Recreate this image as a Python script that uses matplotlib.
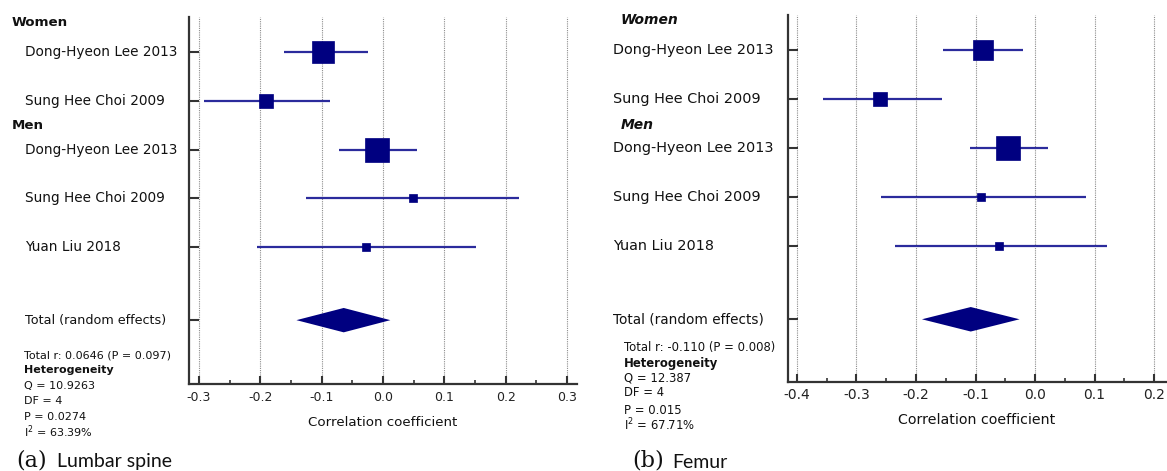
import matplotlib
matplotlib.use("Agg")
import matplotlib.pyplot as plt
import matplotlib.transforms as mtransforms
import numpy as np

plt.rcParams['font.family'] = ['DejaVu Sans']
plt.rcParams['axes.unicode_minus'] = False

# ---------------- data ----------------
studies = ["Dong-Hyeon Lee 2013", "Sung Hee Choi 2009",
           "Dong-Hyeon Lee 2013", "Sung Hee Choi 2009", "Yuan Liu 2018"]
groups = ["Women", "Men"]
total_label = "Total (random effects)"

# (a) Lumbar spine
a_est = [-0.097, -0.191, -0.010, 0.049, -0.027]
a_lo = [-0.161, -0.291, -0.072, -0.125, -0.205]
a_hi = [-0.025, -0.086, 0.055, 0.222, 0.152]
a_w = [34.9, 15.5, 41.8, 3.9, 3.9]
a_tot = [-0.064, -0.141, 0.012]
a_ticks = [-0.3, -0.2, -0.1, 0.0, 0.1, 0.2, 0.3]
a_stats = ["Total r: 0.0646 (P = 0.097)", "Heterogeneity", "Q = 10.9263",
           "DF = 4", "P = 0.0274", "I$^{2}$ = 63.39%"]
a_caption = ("(a)", "Lumbar spine")

# (b) Femur
b_est = [-0.088, -0.260, -0.046, -0.090, -0.060]
b_lo = [-0.155, -0.357, -0.109, -0.259, -0.236]
b_hi = [-0.020, -0.157, 0.022, 0.085, 0.121]
b_w = [32.9, 14.6, 43.0, 4.8, 4.8]
b_tot = [-0.108, -0.190, -0.026]
b_ticks = [-0.4, -0.3, -0.2, -0.1, 0.0, 0.1, 0.2]
b_stats = ["Total r: -0.110 (P = 0.008)", "Heterogeneity", "Q = 12.387",
           "DF = 4", "P = 0.015", "I$^{2}$ = 67.71%"]
b_caption = ("(b)", "Femur")

xlabel = "Correlation coefficient"

# ---------------- layout ----------------
W, H = 1167, 471
fig = plt.figure(figsize=(W / 100, H / 100), dpi=100)


def fx(x):
    return x / W


def fy(y):
    return 1 - y / H


NAVY = "#000080"
LINEC = "#2b2b9c"
SPINE = "#333333"
TXT = "#111111"
row_pos = [0, 1, 2, 3, 4]
tot_pos = 5.5


def panel(rect, xlim, ylim, est, lo, hi, w, tot, ticks, stats, caption, cfg):
    ax = fig.add_axes([fx(rect[0]), fy(rect[3]), fx(rect[2] - rect[0]),
                       (rect[3] - rect[1]) / H])
    ax.set_xlim(*xlim)
    ax.set_ylim(*ylim)
    for s in ("top", "right"):
        ax.spines[s].set_visible(False)
    for s in ("left", "bottom"):
        ax.spines[s].set_color(SPINE)
        ax.spines[s].set_linewidth(1.6)
    # gridlines
    for t in ticks:
        ax.axvline(t, color="#8c8c8c", lw=0.8, ls=(0, (1, 1)), zorder=0)
    # CI lines + squares
    for i, y in enumerate(row_pos):
        ax.plot([lo[i], hi[i]], [y, y], color=LINEC, lw=1.6, zorder=2,
                solid_capstyle="butt")
        ms = 3.6 * np.sqrt(w[i]) * 0.72
        ax.plot([est[i]], [y], marker="s", ms=ms, color=NAVY, mec=NAVY,
                mew=0.5, zorder=3)
    # diamond
    h = 0.25
    ax.fill([tot[1], tot[0], tot[2], tot[0]],
            [tot_pos, tot_pos - h, tot_pos, tot_pos + h],
            color=NAVY, lw=0, zorder=3)
    # ticks
    ax.set_xticks(ticks)
    ax.set_xticklabels([f"{t:.1f}" for t in ticks], fontsize=cfg["tick_fs"],
                       color="#222222")
    ax.set_xticks([t + 0.05 for t in ticks[:-1]], minor=True)
    ax.tick_params(axis="x", which="major", direction="in", length=6,
                   width=1.5, color=SPINE, pad=cfg["tick_pad"])
    ax.tick_params(axis="x", which="minor", direction="in", length=3,
                   width=1.2, color=SPINE)
    ax.set_yticks(row_pos + [tot_pos])
    ax.set_yticklabels([])
    ax.tick_params(axis="y", direction="in", length=7, width=1.5,
                   color=SPINE)

    tr = mtransforms.blended_transform_factory(fig.transFigure, ax.transData)
    # study labels
    for i, y in enumerate(row_pos):
        ax.text(fx(cfg["lab_x"]), y, studies[i], transform=tr, ha="left",
                va="center", fontsize=cfg["lab_fs"], color=TXT)
    # group labels
    for g, y in zip(groups, cfg["grp_y"]):
        ax.text(fx(cfg["grp_x"]), y, g, transform=tr, ha="left",
                va="center", fontsize=cfg["grp_fs"], fontweight="bold",
                fontstyle=cfg["grp_style"], color=TXT)
    ax.text(fx(cfg["lab_x"]), tot_pos, total_label, transform=tr, ha="left",
            va="center", fontsize=cfg["tot_fs"], color=TXT)
    # stats block
    for j, (s, yy) in enumerate(zip(stats, cfg["stat_y"])):
        fig.text(fx(cfg["stat_x"]), fy(yy), s, ha="left", va="center",
                 fontsize=cfg["stat_fs"], color=TXT,
                 fontweight="bold" if j == 1 else "normal")
    # x label
    fig.text(fx((rect[0] + rect[2]) / 2), fy(cfg["xl_y"]), xlabel,
             ha="center", va="center", fontsize=cfg["xl_fs"], color=TXT)
    # caption
    fig.text(fx(cfg["cap_x"][0]), fy(461), caption[0], ha="left",
             va="center", fontsize=16, family="DejaVu Serif", color=TXT)
    fig.text(fx(cfg["cap_x"][1]), fy(462), caption[1], ha="left",
             va="center", fontsize=14, family="Lato", color=TXT)
    return ax


cfg_a = dict(tick_fs=9, tick_pad=5, lab_x=25, lab_fs=9.8, grp_x=12,
             grp_fs=9.6, grp_style="normal", grp_y=[-0.6, 1.5], tot_fs=9.2,
             stat_x=24, stat_fs=8.0,
             stat_y=[355, 370, 386, 401, 417, 432], xl_y=422, xl_fs=9.6,
             cap_x=(16, 57))
cfg_b = dict(tick_fs=10, tick_pad=4, lab_x=613, lab_fs=10.4, grp_x=621,
             grp_fs=10, grp_style="italic", grp_y=[-0.61, 1.53], tot_fs=9.8,
             stat_x=624, stat_fs=8.4,
             stat_y=[347, 363, 378, 393, 410, 425], xl_y=420, xl_fs=10.2,
             cap_x=(632, 672))

panel((189, 17, 577, 384), (-0.316, 0.316), (6.81, -0.72),
      a_est, a_lo, a_hi, a_w, a_tot, a_ticks, a_stats, a_caption, cfg_a)
panel((788, 15, 1166, 382), (-0.415, 0.220), (6.78, -0.71),
      b_est, b_lo, b_hi, b_w, b_tot, b_ticks, b_stats, b_caption, cfg_b)

fig.savefig("out.png", dpi=100)
